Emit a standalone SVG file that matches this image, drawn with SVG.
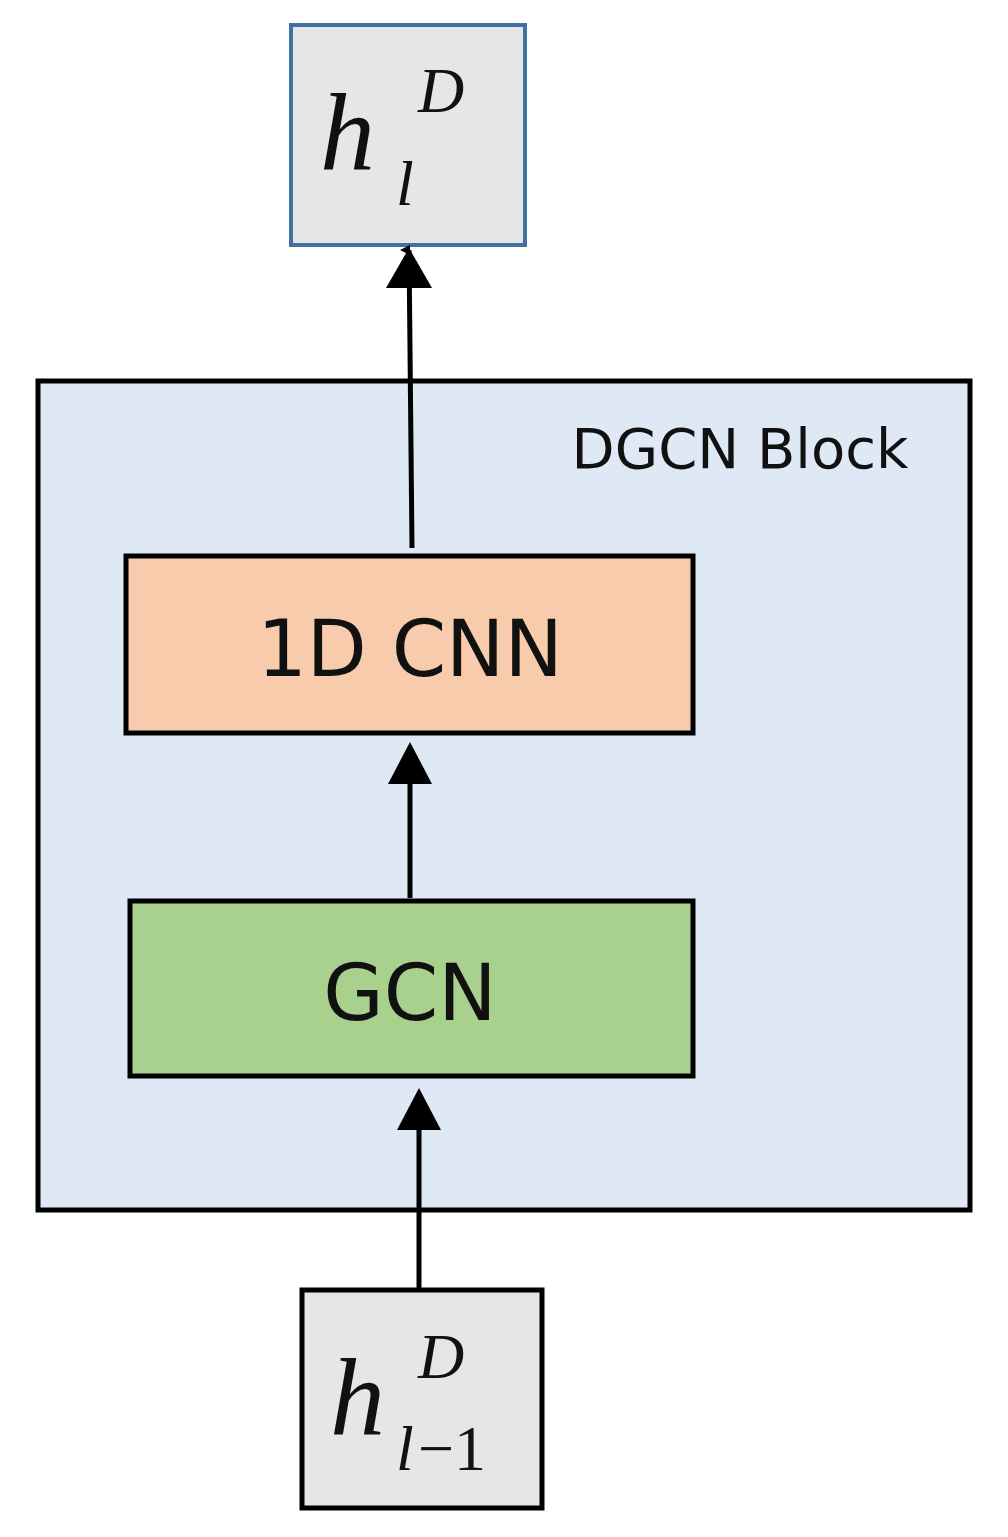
<svg xmlns="http://www.w3.org/2000/svg" width="1008" height="1537" viewBox="0 0 1008 1537">
<defs>
<marker id="ah" markerWidth="10" markerHeight="10" refX="5" refY="9" orient="auto" markerUnits="userSpaceOnUse" viewBox="0 0 10 10"><path d="M0,10 L5,0 L10,10 Z" fill="#000"/></marker>
<style>
.lbl{font-family:"DejaVu Sans","Liberation Sans",sans-serif;fill:#111}
.math{font-family:"Liberation Serif",serif;font-style:italic;fill:#111}
.conn{stroke:#000;stroke-width:5;fill:none}
</style>
</defs>
<rect width="1008" height="1537" fill="#fff"/>
<g id="block"><rect x="38" y="381" width="932" height="829" fill="#dee9f5" stroke="#000" stroke-width="5"/>
<text class="lbl" x="740" y="468" font-size="56" text-anchor="middle">DGCN  Block</text></g>
<g id="cnn"><rect x="126" y="556" width="567" height="177" fill="#f7cbac" stroke="#000" stroke-width="5"/>
<text class="lbl" x="410" y="676" font-size="78" text-anchor="middle">1D CNN</text></g>
<g id="gcn"><rect x="130" y="901" width="563" height="175" fill="#a9d18e" stroke="#000" stroke-width="5"/>
<text class="lbl" x="410" y="1020" font-size="78" text-anchor="middle">GCN</text></g>
<g id="out"><rect x="291" y="25" width="234" height="220" fill="#e6e6e6" stroke="#41719c" stroke-width="4"/>
<text class="math" x="320" y="170" font-size="110">h</text>
<text class="math" x="418" y="112" font-size="64">D</text>
<text class="math" x="396" y="205" font-size="64">l</text></g>
<g id="in"><rect x="302" y="1290" width="240" height="218" fill="#e6e6e6" stroke="#000" stroke-width="5"/>
<text class="math" x="330" y="1435" font-size="110">h</text>
<text class="math" x="418" y="1378" font-size="64">D</text>
<text class="math" x="396" y="1470" font-size="64">l</text>
<text x="418" y="1470" font-size="64" font-family="Liberation Serif,serif" fill="#111">−1</text></g>
<g id="connectors">
<line class="conn" x1="412" y1="548" x2="409" y2="250" marker-end="url(#ah)"/>
<line x1="409" y1="290" x2="409" y2="250" stroke="none"/>
<path d="M386,288 L409,248 L432,288 Z"/>
<line class="conn" x1="410" y1="898" x2="410" y2="780"/>
<path d="M388,784 L410,742 L432,784 Z"/>
<line class="conn" x1="419" y1="1288" x2="419" y2="1126"/>
<path d="M397,1130 L419,1088 L441,1130 Z"/>
</g>
</svg>
